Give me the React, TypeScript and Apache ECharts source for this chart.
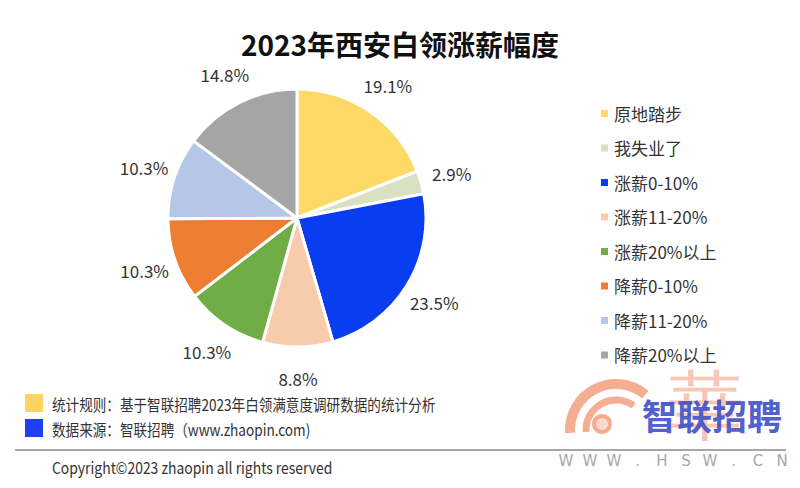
import React, { useEffect, useRef } from "react";
import * as echarts from "echarts";

const categories = ["原地踏步", "我失业了", "涨薪0-10%", "涨薪11-20%", "涨薪20%以上", "降薪0-10%", "降薪11-20%", "降薪20%以上"];
const values = [19.1, 2.9, 23.5, 8.8, 10.3, 10.3, 10.3, 14.8];
const colors = ["#FFD966", "#D9E1C3", "#0A3CF0", "#F8CBAD", "#70AD47", "#ED7D31", "#B4C7E7", "#A5A5A5"];
const titleText = "2023年西安白领涨薪幅度";
const noteRule = "统计规则：基于智联招聘2023年白领满意度调研数据的统计分析";
const noteSource = "数据来源：智联招聘（www.zhaopin.com)";
const copyright = "Copyright©2023 zhaopin all rights reserved";
const siteChars = ["W", "W", "W", ".", "H", "S", "W", ".", "C", "N"];

const FONT = "'Noto Sans CJK SC', 'Noto Sans', sans-serif";

export default function App() {
  const ref = useRef<HTMLDivElement>(null);
  useEffect(() => {
    document.body.style.margin = "0";
    const chart = echarts.init(ref.current!, null, { renderer: "svg" });
    const data = categories.map((name, i) => ({ name, value: values[i], itemStyle: { color: colors[i] } }));
    const orange = "#F3A07F";
    const graphics: any[] = [
      { type: "rect", shape: { x: 25, y: 394, width: 18, height: 18 }, style: { fill: "#FDD462" } },
      { type: "rect", shape: { x: 25, y: 419, width: 18, height: 18 }, style: { fill: "#1E3FF2" } },
      { type: "text", x: 52, y: 404, scaleX: 0.85, style: { text: noteRule, fontFamily: FONT, fontSize: 16, fill: "#333", verticalAlign: "middle" } },
      { type: "text", x: 52, y: 429, scaleX: 0.85, style: { text: noteSource, fontFamily: FONT, fontSize: 16, fill: "#333", verticalAlign: "middle" } },
      { type: "line", shape: { x1: 15, y1: 450, x2: 786, y2: 450 }, style: { stroke: "#8a8a8a", lineWidth: 1.5 } },
      { type: "text", x: 52, y: 467, scaleX: 0.87, style: { text: copyright, fontFamily: FONT, fontSize: 16, fill: "#333", verticalAlign: "middle" } },
      // watermark
      { type: "arc", shape: { cx: 616, cy: 430, r: 46, startAngle: Math.PI * 0.98, endAngle: Math.PI * 1.72 }, style: { stroke: orange, lineWidth: 10, fill: "none", opacity: 0.85 } },
      { type: "arc", shape: { cx: 616, cy: 430, r: 30, startAngle: Math.PI * 0.98, endAngle: Math.PI * 1.7 }, style: { stroke: orange, lineWidth: 7, fill: "none", opacity: 0.85 } },
      { type: "circle", shape: { cx: 602, cy: 424, r: 8 }, style: { stroke: orange, lineWidth: 4, fill: "#FBD3C2", opacity: 0.85 } },
      { type: "text", x: 706, y: 406, z: 1, style: { text: "華", fontFamily: "serif", fontSize: 76, fill: "#F08E6A", opacity: 0.5, align: "center", verticalAlign: "middle" } },
      { type: "text", x: 712, y: 414, z: 2, style: { text: "智联招聘", fontFamily: FONT, fontWeight: "bold", fontSize: 35, fill: "#3A4BC6", opacity: 0.9, align: "center", verticalAlign: "middle" } },
      ...siteChars.map((c, i) => ({ type: "text", x: 566 + i * 24, y: 461, style: { text: c, fontFamily: "'DejaVu Sans', sans-serif", fontSize: 15, fill: "#A8A8A8", align: "center", verticalAlign: "middle" } })),
    ];
    chart.setOption({
      animation: false,
      backgroundColor: "#ffffff",
      title: { text: titleText, left: "center", top: 25, textStyle: { fontFamily: FONT, fontSize: 28, fontWeight: "bold", color: "#111" } },
      legend: {
        orient: "vertical",
        left: 594,
        top: 100,
        icon: "rect",
        itemWidth: 9,
        itemHeight: 9,
        itemGap: 17.5,
        data: categories,
        selectedMode: false,
        textStyle: { fontFamily: FONT, fontSize: 17, color: "#333" },
      },
      series: [
        {
          type: "pie",
          center: [297, 218],
          radius: [0, 129],
          startAngle: 90,
          clockwise: true,
          silent: true,
          data,
          label: { show: false },
          labelLine: { show: false },
          itemStyle: { borderColor: "#fff", borderWidth: 3 },
        },
        {
          type: "pie",
          center: [297, 218],
          radius: [146, 170],
          startAngle: 90,
          clockwise: true,
          silent: true,
          data: categories.map((name, i) => ({ name, value: values[i] })),
          itemStyle: { color: "transparent" },
          label: {
            show: true,
            position: "inside",
            formatter: (p: any) => `${p.value}%`,
            fontFamily: FONT,
            fontSize: 17,
            color: "#333",
          },
          labelLine: { show: false },
        },
      ],
      graphic: graphics,
    });
    return () => chart.dispose();
  }, []);
  return <div ref={ref} style={{ width: 800, height: 488 }} />;
}
